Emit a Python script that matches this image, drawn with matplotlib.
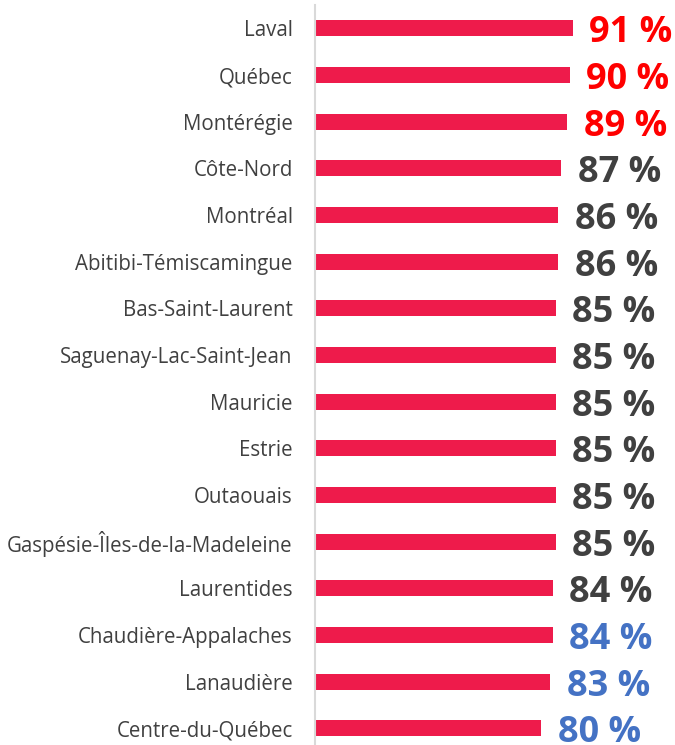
import matplotlib.pyplot as plt

regions = ["Laval", "Québec", "Montérégie", "Côte-Nord", "Montréal",
           "Abitibi-Témiscamingue", "Bas-Saint-Laurent", "Saguenay-Lac-Saint-Jean",
           "Mauricie", "Estrie", "Outaouais", "Gaspésie-Îles-de-la-Madeleine",
           "Laurentides", "Chaudière-Appalaches", "Lanaudière", "Centre-du-Québec"]
valeurs = [91, 90, 89, 87, 86, 86, 85, 85, 85, 85, 85, 85, 84, 84, 83, 80]
couleurs_texte = ["#FF0000"] * 3 + ["#404040"] * 10 + ["#4472C4"] * 3

plt.rcParams['font.family'] = ['Open Sans', 'DejaVu Sans']

fig = plt.figure(figsize=(6.75, 7.45), dpi=100)
ax = fig.add_axes([315 / 675, -0.009, 283 / 675, 1 - 5 / 745 + 0.009])

y = list(range(len(regions)))
ax.barh(y, valeurs, height=0.34, color="#EE1B4B")

for i, (v, c) in enumerate(zip(valeurs, couleurs_texte)):
    ax.annotate(f"{v} %", (v, i), xytext=(12, -3.5), textcoords="offset points",
                va="center", ha="left", fontsize=26, fontweight="bold",
                color=c, annotation_clip=False)

ax.set_xlim(0, 100)
ax.set_ylim(15.5, -0.5)
ax.set_yticks(y)
ax.set_yticklabels(regions, fontsize=14.8, color="#404040")
ax.tick_params(axis="y", length=0, pad=16)
ax.set_xticks([])
for s in ["top", "right", "bottom"]:
    ax.spines[s].set_visible(False)
ax.spines["left"].set_color("#D9D9D9")
ax.spines["left"].set_linewidth(1.5)

fig.savefig("out.png", dpi=100)
